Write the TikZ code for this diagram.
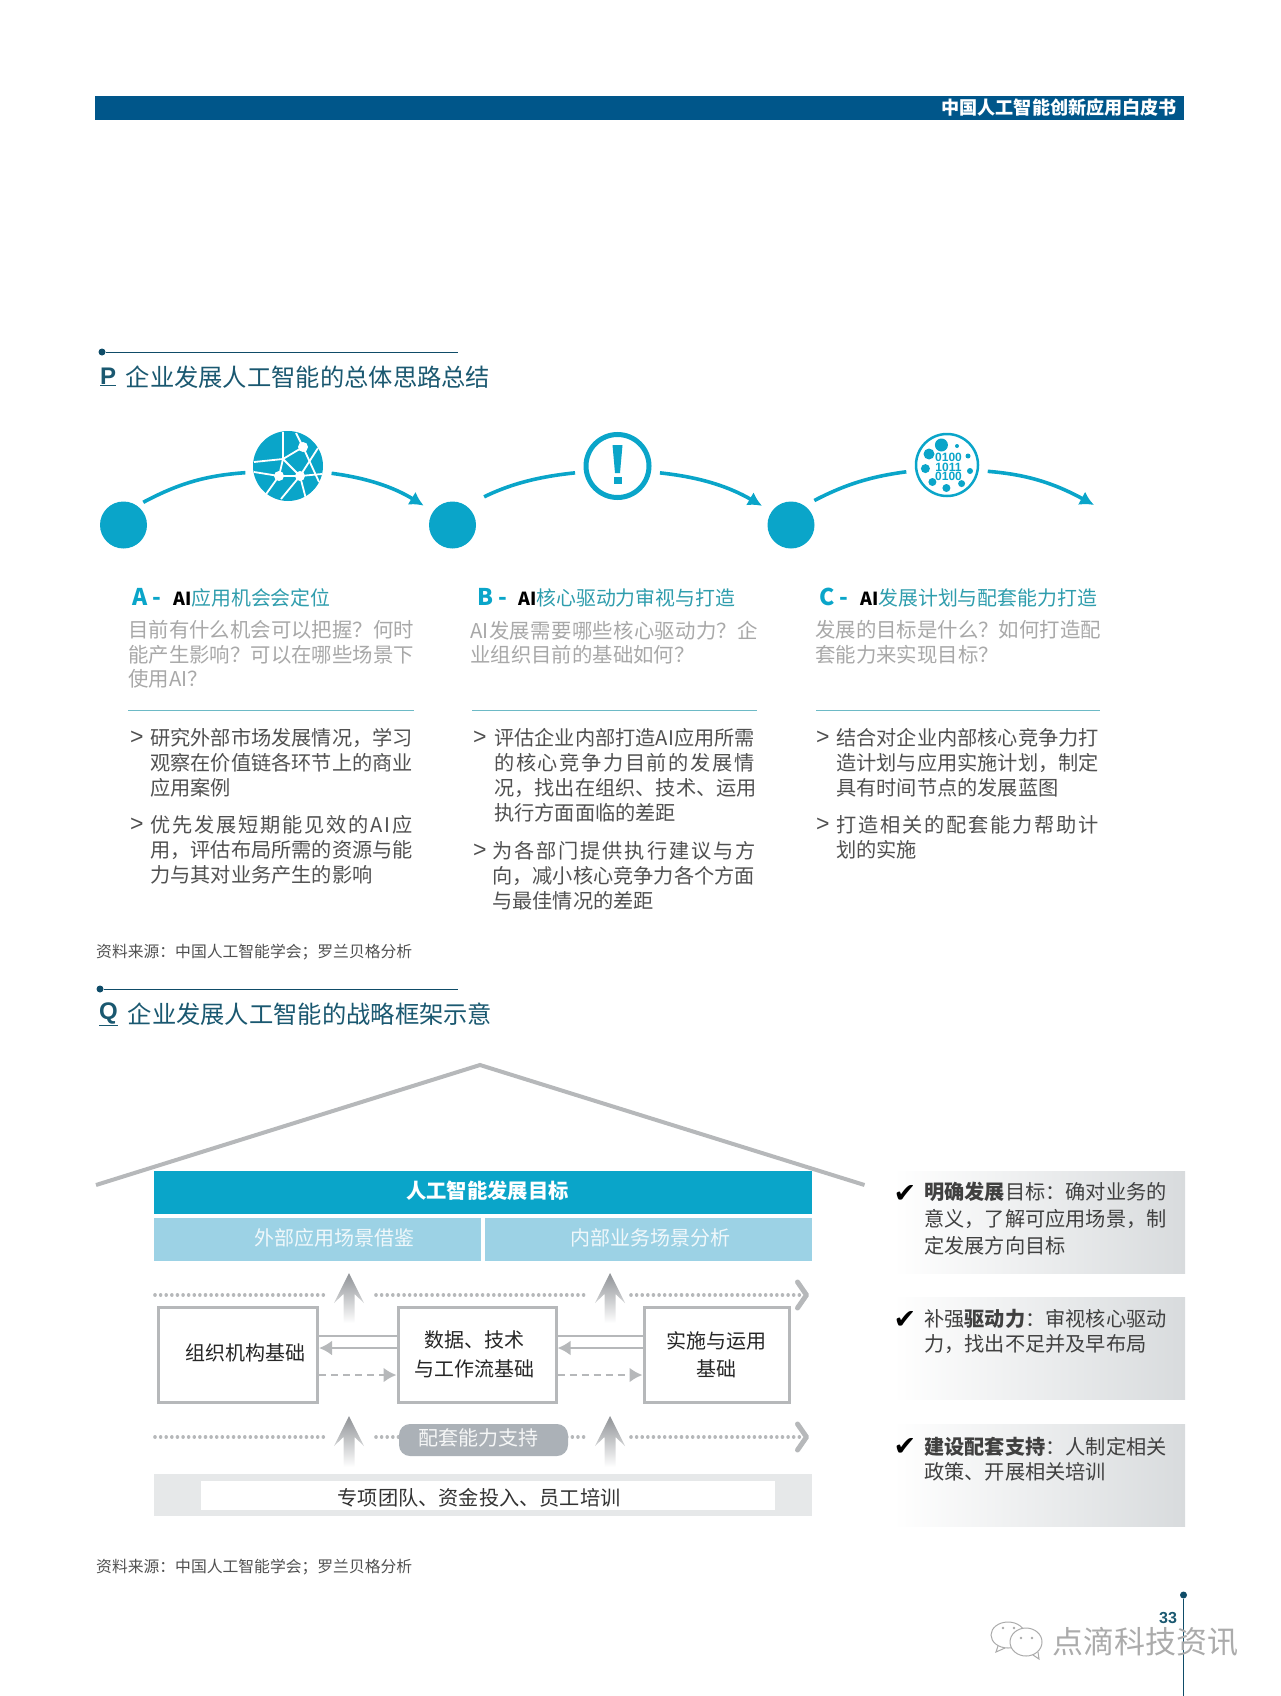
\documentclass[tikz,border=0pt]{standalone}
\usepackage{fontspec}
\usepackage{xcolor}
\usepackage{tikz}
\usetikzlibrary{arrows.meta}
\setmainfont{Noto Sans CJK SC}
\newfontfamily\checkfont{DejaVu Sans}
\newfontfamily\latinfont{Liberation Sans}
\definecolor{barblue}{HTML}{00568A}
\definecolor{titleteal}{HTML}{1A5870}
\definecolor{dotnavy}{HTML}{0F4C68}
\definecolor{cyanfill}{HTML}{0AA5C9}
\definecolor{headteal}{HTML}{2F9DAD}
\definecolor{softblue}{HTML}{9CD2E5}
\definecolor{introgray}{HTML}{A8A8A8}
\definecolor{bodygray}{HTML}{505050}
\definecolor{linegray}{HTML}{B6B8BA}
\definecolor{pillgray}{HTML}{ABB1B7}
\definecolor{bandgray}{HTML}{E6E8E9}
\definecolor{panelgray}{HTML}{D8DBDD}
\definecolor{arrowgray}{HTML}{8F9296}
\definecolor{markgray}{HTML}{ABABAB}
\newcommand{\headmark}[1]{\makebox[41pt][l]{\fontsize{23}{24}\selectfont\bfseries\color{cyanfill}#1}}
\newcommand{\headai}{{\bfseries\fontsize{18}{24}\selectfont\color{black}AI}}
\newcommand{\wideline}[2]{{\addfontfeature{LetterSpace=#1}#2}}
\newcommand{\fadearrow}[3]{\shade[top color=arrowgray, bottom color=white] (#1,#2) -- (#1+15,#2+30) -- (#1+5.5,#2+21) -- (#1+5.5,#3) -- (#1-5.5,#3) -- (#1-5.5,#2+21) -- (#1-15,#2+30) -- cycle;}
\begin{document}
\begin{tikzpicture}[x=1pt, y=-1pt,
    sectitle/.style={anchor=west, inner sep=0pt, text=titleteal, font=\fontsize{24.3}{28}\selectfont},
    secletter/.style={anchor=west, inner sep=0pt, text=titleteal, font=\latinfont\bfseries\fontsize{24}{28}\selectfont},
    secdot/.style={circle, fill=dotnavy, inner sep=0pt, minimum size=7pt},
    secrule/.style={draw=dotnavy, line width=0.9pt},
    bigdot/.style={circle, fill=cyanfill, inner sep=0pt, minimum size=47pt},
    arcline/.style={draw=cyanfill, line width=3.6pt},
    arctip/.style={arcline, -{Latex[length=14pt, width=15pt]}},
    colhead/.style={anchor=west, inner sep=0pt, text=headteal, font=\fontsize{19.9}{24}\selectfont},
    intro/.style={anchor=north west, inner sep=0pt, align=left, text=introgray, font=\fontsize{20.4}{24.4}\selectfont, execute at begin node=\strut},
    bodytext/.style={anchor=north west, inner sep=0pt, align=left, text=bodygray, font=\fontsize{20.2}{24.9}\selectfont, execute at begin node=\strut},
    bulletmark/.style={anchor=west, inner sep=0pt, text=bodygray, font=\latinfont\fontsize{23}{24}\selectfont},
    colrule/.style={draw=headteal!70, line width=1pt},
    source/.style={anchor=west, inner sep=0pt, text=bodygray, font=\fontsize{15.8}{18}\selectfont},
    softbox/.style={fill=softblue, inner sep=0pt, minimum height=43pt},
    softtext/.style={inner sep=0pt, text=white!85!softblue, font=\fontsize{20}{24}\selectfont},
    basebox/.style={draw=linegray, line width=3pt, fill=white, inner sep=0pt, minimum height=95pt, align=center, text=black!85, font=\fontsize{20}{28.5}\selectfont},
    linkline/.style={draw=linegray, line width=2.8pt},
    linktip/.style={linkline, -{Latex[length=13pt, width=15pt]}},
    linkdash/.style={linktip, dash pattern=on 7pt off 5pt},
    dotrow/.style={draw=linegray, line width=3.6pt, line cap=round, dash pattern=on 0.01pt off 5.6pt},
    rowtip/.style={dotrow, -{Straight Barb[length=9pt, width=26pt, line width=5pt, round=false]}},
    panel/.style={left color=white, right color=panelgray, inner sep=0pt, minimum width=292pt, minimum height=102pt},
    checkmark/.style={inner sep=0pt, text=black, font=\checkfont\fontsize{27}{28}\selectfont},
    sidetext/.style={anchor=north west, inner sep=0pt, align=left, text=black!75, font=\fontsize{20.2}{24.5}\selectfont, execute at begin node=\strut}]
    \useasboundingbox (0,0) rectangle (1280,1696);

    % Header
    \node[fill=barblue, inner sep=0pt, minimum width=1089pt, minimum height=24pt] (headbar) at (639.5,108) {};
    \node[anchor=east, inner sep=0pt, text=white, font=\bfseries\fontsize{18.1}{20}\selectfont] (headtext) at (1177,107.5) {中国人工智能创新应用白皮书};

    % Section P
    \node[secdot] (dotp) at (102,352) {};
    \coordinate (rulep) at (458,352);
    \draw[secrule] (dotp) -- (rulep);
    \node[secletter] (letterp) at (100,377) {\underline{P}};
    \node[sectitle] (titlep) at (125.5,377) {企业发展人工智能的总体思路总结};

    % Circles and icons
    \node[bigdot] (cira) at (123.5,525) {};
    \node[bigdot, right of=cira, node distance=329pt] (cirb) {};
    \node[bigdot, right of=cirb, node distance=338.5pt] (circ) {};
    \node[circle, fill=cyanfill, inner sep=0pt, minimum size=70pt] (icona) at (288,466) {};
    \begin{scope}[shift={(288,466)}, white, line width=1.8pt]
        \draw (-34,-4) -- (-5,-7) -- (15,-19) -- (8,-33);
        \draw (-5,-34) -- (-5,-7) -- (-9,10) -- (-24,31);
        \draw (-34,6) -- (-9,10) -- (12,10) -- (34,8);
        \draw (-5,-7) -- (12,10) -- (18,33);
        \draw (15,-19) -- (31,16);
        \draw (30,-18) -- (12,10) -- (-7,33);
        \fill (15,-19) circle (5);
        \fill (-9,10) circle (5);
        \fill (12,10) circle (5);
    \end{scope}
    \node[circle, draw=cyanfill, line width=5pt, inner sep=0pt, minimum size=63pt] (iconb) at (617.5,466) {};
    \fill[cyanfill] (612.5,445) -- (622.5,445) -- (620,473) -- (615,473) -- cycle;
    \fill[cyanfill] (613.5,477) rectangle (621.5,484);
    \node[circle, draw=cyanfill, line width=2.5pt, inner sep=0pt, minimum size=62pt] (iconc) at (947,465) {};
    \begin{scope}[shift={(947,465)}, cyanfill]
        \fill (-5.6,-20) circle (6.5);
        \fill (-18,-11) circle (5.5);
        \fill (-21.6,3.6) circle (4.5);
        \fill (-14.6,17) circle (4);
        \fill (-0.6,23) circle (4);
        \fill (14.6,18.6) circle (3.5);
        \fill (23,6) circle (3);
        \fill (21,-9) circle (2.5);
        \fill (10,-19) circle (2);
    \end{scope}
    \node[inner sep=0pt, align=center, text=cyanfill, font=\latinfont\bfseries\fontsize{12}{9.4}\selectfont] (bincode) at (948.5,467) {0100\\1011\\0100};
    \coordinate (arcend) at (1094,505);

    % Arcs
    \draw[arcline, shorten <=7pt, shorten >=8pt] (cira.55) to[bend left=12] (icona.190);
    \draw[arctip, shorten <=9pt, shorten >=11pt] (icona.-10) to[bend left=12] (cirb.145);
    \draw[arcline, shorten <=20pt, shorten >=9pt] (cirb.55) to[bend left=10] (iconb.190);
    \draw[arctip, shorten <=9pt, shorten >=11pt] (iconb.-10) to[bend left=12] (circ.145);
    \draw[arcline, shorten <=11pt, shorten >=9pt] (circ.55) to[bend left=10] (iconc.190);
    \draw[arctip, shorten <=9pt] (iconc.-10) to[bend left=12] (arcend);

    % Column A
    \node[colhead] (heada) at (132,598) {\headmark{A -}\headai 应用机会会定位};
    \node[intro] (introa) at (128,620.5) {目前有什么机会可以把握？何时\\能产生影响？可以在哪些场景下\\使用AI？};
    \draw[colrule] (128,710) -- (414,710);
    \node[bulletmark] (marka) at (130,738) {>};
    \node[bodytext] (bodya) at (150,728.5) {研究外部市场发展情况，学习\\观察在价值链各环节上的商业\\应用案例};
    \node[bulletmark] (markb) at (130,824.5) {>};
    \node[bodytext] (bodyb) at (150,815) {\wideline{9}{优先发展短期能见效的AI应}\\用，评估布局所需的资源与能\\力与其对业务产生的影响};

    % Column B
    \node[colhead] (headb) at (477,598) {\headmark{B -}\headai 核心驱动力审视与打造};
    \node[intro] (introb) at (470,620.5) {\wideline{1.5}{AI发展需要哪些核心驱动力？企}\\业组织目前的基础如何？};
    \draw[colrule] (472,710) -- (757,710);
    \node[bulletmark] (markc) at (473,738) {>};
    \node[bodytext] (bodyc) at (494,728.5) {评估企业内部打造AI应用所需\\\wideline{8}{的核心竞争力目前的发展情}\\况，找出在组织、技术、运用\\执行方面面临的差距};
    \node[bulletmark] (markd) at (473,850.5) {>};
    \node[bodytext] (bodyd) at (492,841) {\wideline{9.5}{为各部门提供执行建议与方}\\向，减小核心竞争力各个方面\\与最佳情况的差距};

    % Column C
    \node[colhead] (headc) at (819,598) {\headmark{C -}\headai 发展计划与配套能力打造};
    \node[intro] (introc) at (815,620.5) {发展的目标是什么？如何打造配\\套能力来实现目标？};
    \draw[colrule] (816,710) -- (1100,710);
    \node[bulletmark] (marke) at (816,738) {>};
    \node[bodytext] (bodye) at (836,728.5) {结合对企业内部核心竞争力打\\造计划与应用实施计划，制定\\具有时间节点的发展蓝图};
    \node[bulletmark] (markf) at (816,824.5) {>};
    \node[bodytext] (bodyf) at (836,815) {\wideline{9}{打造相关的配套能力帮助计}\\划的实施};

    \node[source] (sourcep) at (96,952.5) {资料来源：中国人工智能学会；罗兰贝格分析};

    % Section Q
    \node[secdot] (dotq) at (100,989) {};
    \coordinate (ruleq) at (458,989);
    \draw[secrule] (dotq) -- (ruleq);
    \node[secletter] (letterq) at (99,1014) {\underline{Q}};
    \node[sectitle] (titleq) at (127.5,1014) {企业发展人工智能的战略框架示意};

    % Roof
    \coordinate (roofl) at (96,1185);
    \coordinate (roofm) at (480,1065);
    \coordinate (roofr) at (864.5,1185);
    \draw[draw=linegray, line width=4pt] (roofl) -- (roofm) -- (roofr);

    % Goal boxes
    \node[fill=cyanfill, inner sep=0pt, minimum width=658pt, minimum height=43pt] (goal) at (483,1192.5) {};
    \node[inner sep=0pt, text=white, font=\bfseries\fontsize{20.3}{24}\selectfont] (goaltext) at (487.5,1190.5) {人工智能发展目标};
    \node[softbox, minimum width=327pt] (outer) at (317.5,1239.5) {};
    \node[softbox, minimum width=326.5pt] (inner) at (648.7,1239.5) {};
    \node[softtext] (outertext) at (334,1237.5) {外部应用场景借鉴};
    \node[softtext] (innertext) at (650.5,1237.5) {内部业务场景分析};

    % Dotted rows
    \coordinate (rowa) at (155,1295);
    \coordinate (rowb) at (324,1295);
    \coordinate (rowc) at (376,1295);
    \coordinate (rowd) at (589,1295);
    \coordinate (rowe) at (631,1295);
    \coordinate (rowf) at (809,1295);
    \coordinate (rowg) at (155,1437);
    \coordinate (rowh) at (324,1437);
    \coordinate (rowi) at (376,1437);
    \coordinate (rowj) at (589,1437);
    \coordinate (rowk) at (631,1437);
    \coordinate (rowl) at (809,1437);
    \draw[dotrow] (rowa) -- (rowb);
    \draw[dotrow] (rowc) -- (rowd);
    \draw[rowtip] (rowe) -- (rowf);
    \draw[dotrow] (rowg) -- (rowh);
    \draw[dotrow] (rowi) -- (rowj);
    \draw[rowtip] (rowk) -- (rowl);
    \fadearrow{349}{1273}{1323}
    \fadearrow{610}{1273}{1323}
    \fadearrow{349}{1416}{1467}
    \fadearrow{610}{1416}{1467}
    \node[rounded corners=11pt, fill=pillgray, inner sep=0pt, minimum width=169pt, minimum height=32pt] (pill) at (483.5,1440) {};
    \node[inner sep=0pt, text=white!88!pillgray, font=\fontsize{20}{24}\selectfont] (pilltext) at (478,1438) {配套能力支持};

    % Base boxes
    \node[basebox, minimum width=159.5pt] (orgbox) at (237.75,1354.5) {\raisebox{4pt}{\hspace*{16pt}组织机构基础}};
    \node[basebox, minimum width=158pt, right of=orgbox, node distance=239.25pt] (databox) {\hspace*{-6pt}数据、技术\\\hspace*{-6pt}与工作流基础};
    \node[basebox, minimum width=145pt, right of=databox, node distance=239.5pt] (usebox) {实施与运用\\基础};

    % Links
    \draw[linkline] ([yshift=18.5pt]orgbox.east) -- ([yshift=18.5pt]databox.west);
    \draw[linktip] ([yshift=6.5pt]databox.west) -- ([yshift=6.5pt]orgbox.east);
    \draw[linkdash] ([yshift=-20.5pt]orgbox.east) -- ([yshift=-20.5pt]databox.west);
    \draw[linkline] ([yshift=18.5pt]databox.east) -- ([yshift=18.5pt]usebox.west);
    \draw[linktip] ([yshift=6.5pt]usebox.west) -- ([yshift=6.5pt]databox.east);
    \draw[linkdash] ([yshift=-20.5pt]databox.east) -- ([yshift=-20.5pt]usebox.west);

    % Support band
    \node[fill=bandgray, inner sep=0pt, minimum width=658pt, minimum height=42pt] (band) at (483,1495) {};
    \node[fill=white, inner sep=0pt, minimum width=574pt, minimum height=29pt] (bandbox) at (488,1495.5) {};
    \node[inner sep=0pt, text=black!80, font=\fontsize{20.2}{24}\selectfont] (bandtext) at (479,1497.5) {专项团队、资金投入、员工培训};

    % Side panels
    \node[panel] (panela) at (1039,1222.5) {};
    \node[panel, below of=panela, node distance=125.5pt] (panelb) {};
    \node[panel, below of=panelb, node distance=127pt] (panelc) {};
    \node[checkmark] (checka) at (905,1194) {✔};
    \node[sidetext, font=\fontsize{20.2}{27}\selectfont] (sidea) at (924,1182) {\textbf{明确发展}目标：确对业务的\\意义，了解可应用场景，制\\定发展方向目标};
    \node[checkmark] (checkb) at (905,1320) {✔};
    \node[sidetext] (sideb) at (924,1309.5) {补强\textbf{驱动力}：审视核心驱动\\力，找出不足并及早布局};
    \node[checkmark] (checkc) at (905,1447) {✔};
    \node[sidetext] (sidec) at (924,1437.5) {\textbf{建设配套支持}：人制定相关\\政策、开展相关培训};

    \node[source] (sourceq) at (96,1567) {资料来源：中国人工智能学会；罗兰贝格分析};

    % Page number
    \node[circle, fill=dotnavy, inner sep=0pt, minimum size=7pt] (pagedot) at (1183.5,1595) {};
    \coordinate (pageend) at (1183.5,1696);
    \draw[draw=dotnavy, line width=0.9pt] (pagedot) -- (pageend);
    \node[inner sep=0pt, text=titleteal, font=\latinfont\bfseries\fontsize{16}{18}\selectfont] (pagenum) at (1168,1618) {33};

    % Watermark
    \draw[markgray, line width=1pt, fill=white] (1008,1635) ellipse (17 and 13);
    \draw[markgray, line width=1pt] (998,1646) -- (996,1652) -- (1005,1648);
    \draw[markgray, line width=1pt, fill=white] (1026,1642) ellipse (16 and 14);
    \draw[markgray, line width=1pt] (1033,1655) -- (1039,1659) -- (1038,1652);
    \fill[markgray] (1003,1628) circle (1.3) (1014,1628) circle (1.3) (1021,1638) circle (1.3) (1032,1638) circle (1.3);
    \node[inner sep=0pt, text=markgray, font=\fontsize{31}{34}\selectfont] (marktext) at (1145,1642) {点滴科技资讯};
\end{tikzpicture}
\end{document}
